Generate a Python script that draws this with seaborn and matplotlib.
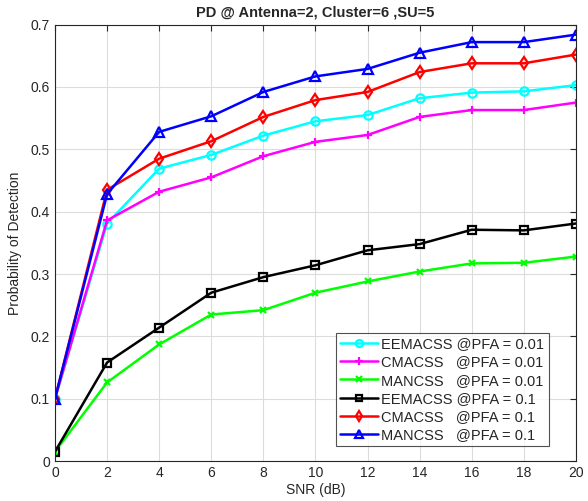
import matplotlib
matplotlib.use("Agg")
import matplotlib.pyplot as plt
import seaborn as sns
import pandas as pd

snr = [0, 2, 4, 6, 8, 10, 12, 14, 16, 18, 20]
eemacss_001 = [0.100, 0.381, 0.469, 0.491, 0.522, 0.545, 0.555, 0.582, 0.591, 0.593, 0.603]
cmacss_001 = [0.100, 0.386, 0.432, 0.455, 0.489, 0.512, 0.523, 0.552, 0.563, 0.563, 0.575]
mancss_001 = [0.015, 0.126, 0.187, 0.235, 0.242, 0.270, 0.288, 0.304, 0.317, 0.318, 0.328]
eemacss_01 = [0.015, 0.158, 0.214, 0.270, 0.295, 0.314, 0.338, 0.348, 0.371, 0.370, 0.381]
cmacss_01 = [0.100, 0.435, 0.485, 0.513, 0.552, 0.579, 0.592, 0.624, 0.638, 0.638, 0.652]
mancss_01 = [0.100, 0.428, 0.528, 0.553, 0.592, 0.617, 0.629, 0.655, 0.672, 0.672, 0.684]

labels = ["EEMACSS @PFA = 0.01", "CMACSS   @PFA = 0.01", "MANCSS   @PFA = 0.01",
          "EEMACSS @PFA = 0.1", "CMACSS   @PFA = 0.1", "MANCSS   @PFA = 0.1"]
series = [eemacss_001, cmacss_001, mancss_001, eemacss_01, cmacss_01, mancss_01]
colors = ["#00ffff", "#ff00ff", "#00ff00", "#000000", "#ff0000", "#0000ff"]
markers = ["o", "+", "x", "s", "d", "^"]
msizes = [6, 6, 4.5, 5.5, 6, 7]

sns.set_style("white")
plt.rcParams['font.family'] = ['Liberation Sans', 'DejaVu Sans']

fig = plt.figure(figsize=(5.88, 5.01), dpi=100)
ax = fig.add_axes([0.0935, 0.0798, 0.886, 0.871])

for lab, vals, c, m, ms in zip(labels, series, colors, markers, msizes):
    df = pd.DataFrame({"snr": snr, "pd": vals})
    sns.lineplot(data=df, x="snr", y="pd", ax=ax, color=c, marker=m, markersize=ms,
                 markerfacecolor="none", markeredgecolor=c, markeredgewidth=1.6,
                 linewidth=1.8, label=lab)

ax.set_xlim(0, 20)
ax.set_ylim(0, 0.7)
ax.set_xticks(range(0, 21, 2))
ax.set_yticks([0, 0.1, 0.2, 0.3, 0.4, 0.5, 0.6, 0.7])
ax.set_yticklabels(["0", "0.1", "0.2", "0.3", "0.4", "0.5", "0.6", "0.7"])
ax.grid(True, color="#dcdcdc", linewidth=0.8)
ax.tick_params(direction="in", length=4, labelsize=10, colors="#262626", top=True, right=True)
for s in ax.spines.values():
    s.set_color("#262626")
    s.set_linewidth(0.8)
ax.set_xlabel("SNR (dB)", fontsize=10, color="#262626", labelpad=2)
ax.set_ylabel("Probability of Detection", fontsize=10, color="#262626", labelpad=6)
ax.set_title("PD @ Antenna=2, Cluster=6 ,SU=5", fontsize=10.5, fontweight="bold", pad=6)

leg = ax.legend(loc="lower right", bbox_to_anchor=(0.948, 0.034), borderaxespad=0,
                fontsize=10.5, frameon=True, fancybox=False,
                edgecolor="#262626", handlelength=2.6,
                handletextpad=0.25, labelspacing=0.28, borderpad=0.3, markerscale=0.85)
leg.get_frame().set_linewidth(0.8)

fig.savefig("out.png", dpi=100)
